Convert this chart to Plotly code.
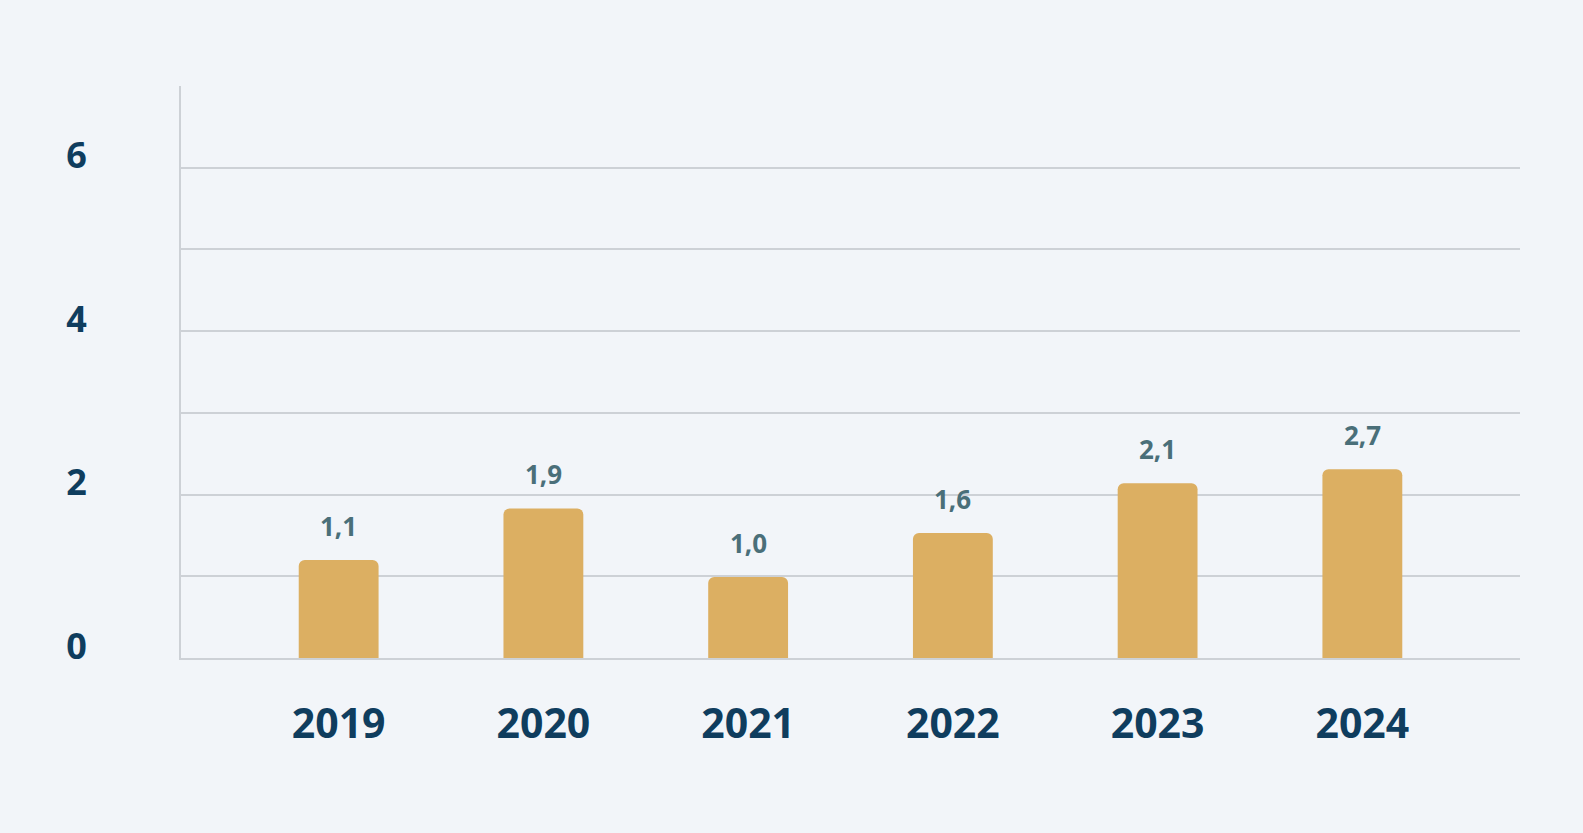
import plotly.graph_objects as go

years = ["2019", "2020", "2021", "2022", "2023", "2024"]
bar_heights = [1.2, 1.83, 0.99, 1.53, 2.14, 2.31]
value_labels = ["1,1", "1,9", "1,0", "1,6", "2,1", "2,7"]
y_tick_vals = [0, 1, 2, 3, 4, 5, 6]
y_tick_text = ["0", "", "2", "", "4", "", "6"]

navy = "#0F3D5E"
grid = "#CDD1D6"
bg = "#F2F5F9"

fig = go.Figure()
fig.add_trace(go.Bar(
    x=list(range(len(years))),
    y=bar_heights,
    width=0.39,
    marker=dict(color="#DCAF62", cornerradius=6, line=dict(width=0)),
    hoverinfo="skip",
))

for i, (h, t) in enumerate(zip(bar_heights, value_labels)):
    fig.add_annotation(
        x=i, y=h, text=t, showarrow=False, yshift=34,
        font=dict(family="Open Sans", size=26, color="#4A6F79", weight="bold"),
    )

fig.update_layout(
    width=1583, height=833,
    paper_bgcolor=bg, plot_bgcolor=bg,
    margin=dict(l=181, r=63, t=86, b=175),
    showlegend=False,
    xaxis=dict(
        range=[-0.77, 5.77],
        tickvals=list(range(len(years))), ticktext=years,
        tickfont=dict(family="Open Sans", size=41, color=navy, weight="bold"),
        showgrid=False, zeroline=False,
        showline=True, linecolor=grid, linewidth=2,
        ticks="", ticklabelstandoff=29,
    ),
    yaxis=dict(
        range=[0, 7],
        tickvals=y_tick_vals, ticktext=y_tick_text,
        tickfont=dict(family="Open Sans", size=36, color=navy, weight="bold"),
        showgrid=True, gridcolor=grid, gridwidth=2,
        zeroline=False, showline=True, linecolor=grid, linewidth=2,
        ticks="", ticklabelstandoff=85, ticklabelshift=-12,
    ),
)

fig.write_html(
    "out.html",
    config={"displayModeBar": False},
    post_script="document.body.style.margin='0';document.body.style.background='%s';" % bg,
)
